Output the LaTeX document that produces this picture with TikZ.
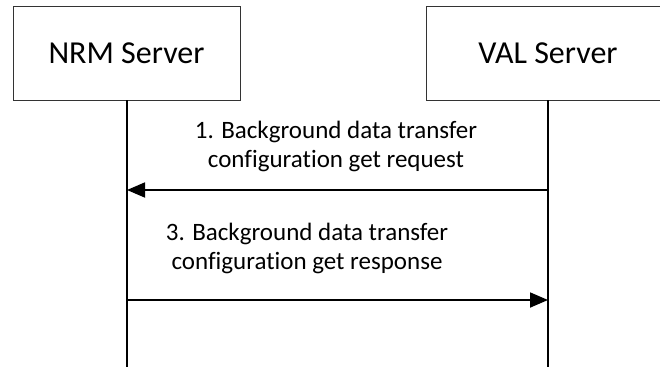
\documentclass[tikz,border=0pt]{standalone}
\usepackage{fontspec}
\setmainfont{Carlito}[Ligatures=NoCommon]
\usetikzlibrary{arrows.meta}
\begin{document}
\begin{tikzpicture}[x=1pt,y=-1pt,
  actor/.style={draw=black!80,line width=0.9pt,minimum width=227pt,minimum height=94pt,inner sep=0pt,font=\fontsize{32}{38}\selectfont},
  lifeline/.style={line width=2pt},
  msg/.style={line width=1.8pt,-{Triangle[length=18pt,width=15pt]}},
  lbl/.style={align=center,font=\fontsize{25}{29}\selectfont,inner sep=0pt}]
\useasboundingbox (0,0) rectangle (660,367);
\node[actor] (nrm) at (126.5,53) {NRM Server};
\node[actor,minimum width=244pt] (val) at (548,53) {VAL Server};
\coordinate (nrmend) at (127,367);
\coordinate (valend) at (548,367);
\draw[lifeline] (nrm.south -| nrmend) -- (nrmend);
\draw[lifeline] (val.south -| valend) -- (valend);
\coordinate (m1v) at (548,190);
\coordinate (m1n) at (127,190);
\coordinate (m2n) at (127,300);
\coordinate (m2v) at (548,300);
\draw[msg] (m1v) -- (m1n);
\draw[msg] (m2n) -- (m2v);
\node[lbl] (l1) at (336,146) {1. Background data transfer\\configuration get request};
\node[lbl] (l2) at (307,248) {3. Background data transfer\\configuration get response};
\end{tikzpicture}
\end{document}
